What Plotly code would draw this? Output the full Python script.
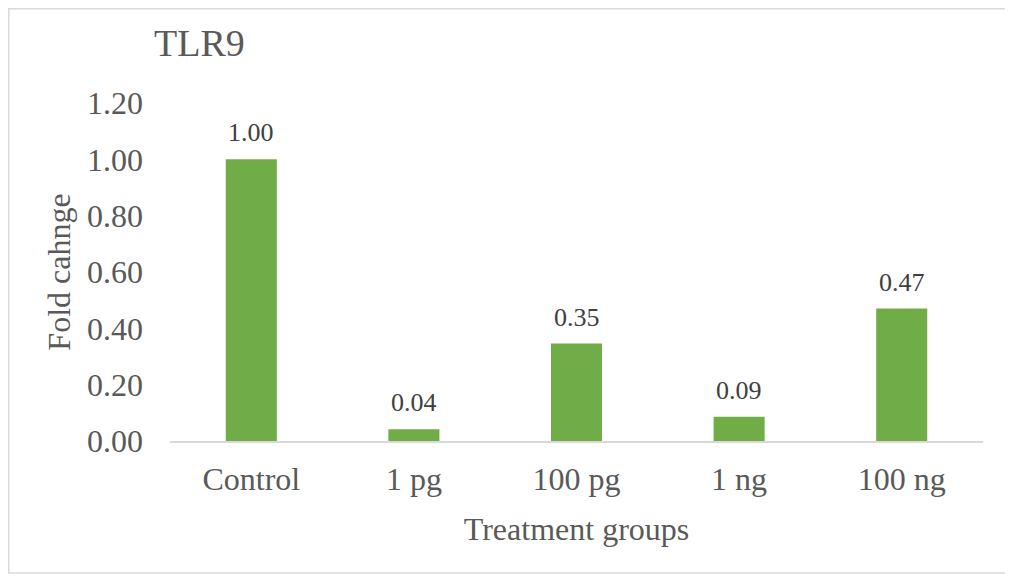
import plotly.graph_objects as go

categories = ["Control", "1 pg", "100 pg", "1 ng", "100 ng"]
fold_change = [1.00, 0.042, 0.346, 0.086, 0.47]
y_ticks = [0.0, 0.2, 0.4, 0.6, 0.8, 1.0, 1.2]

W, H = 1013, 576
# page body adds an 8px offset; positions below are in figure pixels
L, R, T, B = 162, 38, 95, 143
pw, ph = W - L - R, H - T - B

serif = "Liberation Serif, Times New Roman, serif"

fig = go.Figure(go.Bar(
    x=categories, y=fold_change,
    marker=dict(color="#70AD47", line=dict(width=0)),
    hoverinfo="x+y",
))

for c, v in zip(categories, fold_change):
    fig.add_annotation(x=c, y=v, text=f"{v:.2f}", showarrow=False,
                       yanchor="bottom", yshift=10,
                       font=dict(family=serif, size=26, color="#404040"))

def px_x(p):
    return (p - L) / pw

def px_y(p):
    return (H - B - p) / ph

fig.update_layout(
    width=W, height=H,
    margin=dict(l=L, r=R, t=T, b=B),
    paper_bgcolor="white", plot_bgcolor="white",
    bargap=0.686,
    showlegend=False,
    font=dict(family=serif, color="#595959"),
    title=dict(text="TLR9", x=146 / W, xanchor="left", xref="container",
               y=1 - 35 / H, yanchor="middle", yref="container",
               font=dict(family=serif, size=38, color="#595959")),
    xaxis=dict(showline=True, linecolor="#D9D9D9", linewidth=1.5, showgrid=False,
               ticks="", tickfont=dict(size=32, color="#595959"),
               ticklabelstandoff=9,
               title=dict(text="Treatment groups", font=dict(size=32, color="#595959"), standoff=21)),
    yaxis=dict(range=[0, 1.2], tickvals=y_ticks, tickformat=".2f", showgrid=False,
               zeroline=False, showline=False, ticks="",
               tickfont=dict(size=32, color="#595959"), ticklabelstandoff=26,
               title=dict(text="Fold cahnge", font=dict(size=32, color="#595959"), standoff=6)),
    shapes=[dict(type="rect", xref="paper", yref="paper",
                 x0=px_x(0.75), x1=px_x(1002), y0=px_y(565), y1=px_y(0.75),
                 line=dict(color="#D9D9D9", width=1.5), fillcolor="rgba(0,0,0,0)", layer="below")],
)

fig.write_html("out.html")
